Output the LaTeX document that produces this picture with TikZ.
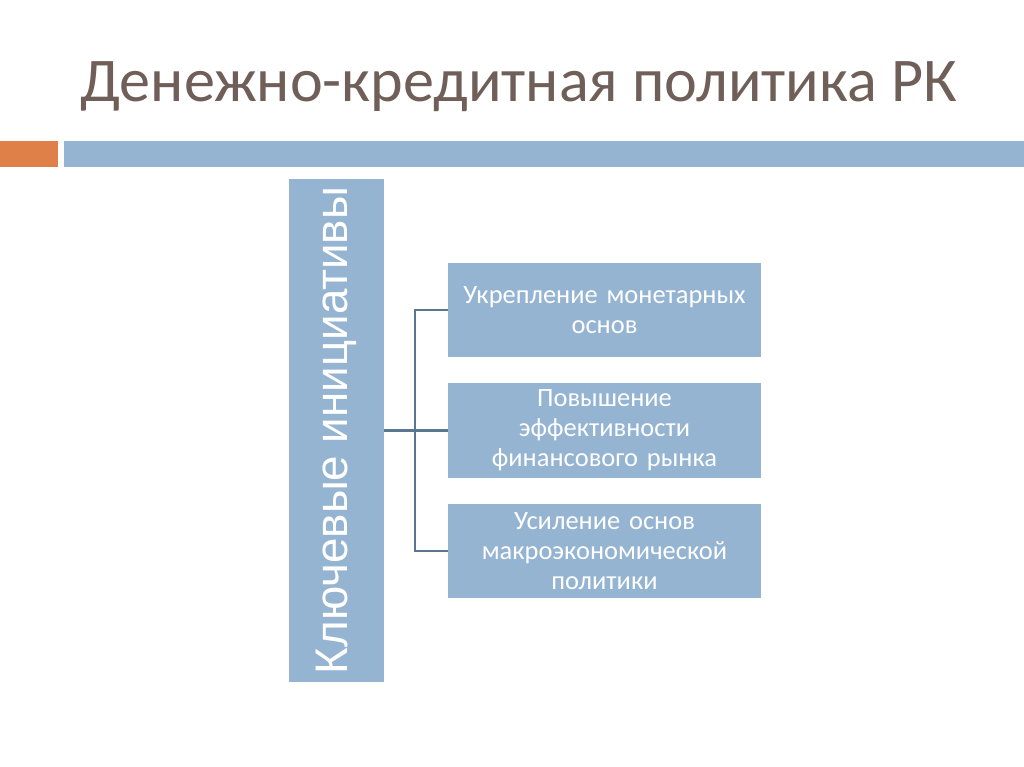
\documentclass[tikz,border=0pt]{standalone}
\usepackage{fontspec}
\setmainfont{Carlito}
\newfontfamily\keyfont{Liberation Sans}
\usetikzlibrary{positioning}
\definecolor{titlebrown}{RGB}{112,95,88}
\definecolor{paleblue}{RGB}{148,180,210}
\definecolor{barorange}{RGB}{222,128,72}
\definecolor{linkgray}{RGB}{90,118,144}
\tikzset{
  initbox/.style={fill=paleblue, text=white, align=center, inner sep=0pt,
    minimum width=222.6pt, minimum height=66.9pt, text width=215pt,
    font=\fontsize{18.8}{21.3}\selectfont},
  link/.style={draw=linkgray, line width=1.5pt}
}
\begin{document}
\begin{tikzpicture}[x=0.025cm, y=-0.025cm]
      \useasboundingbox (0,0) rectangle (1024,767);
      \node[anchor=base west, text=titlebrown, inner sep=0pt,
        font=\fontsize{44.2}{50}\selectfont] (title) at (80,102) {Денежно-кредитная политика РК};
      \fill[barorange] (0,141) rectangle (58,167);
      \fill[paleblue] (64,141) rectangle (1024,167);
      \node[fill=paleblue, text=white, inner sep=0pt, minimum width=66.9pt, minimum height=357.8pt,
        font=\keyfont\fontsize{32.5}{38}\selectfont] (key) at (336.5,430.5)
        {\rotatebox{90}{Ключевые инициативы}};
      \node[initbox] (b1) at (604.5,310) {Укрепление монетарных\\основ};
      \node[initbox] (b2) at (604.5,430.5) {Повышение\\эффективности\\финансового рынка};
      \node[initbox] (b3) at (604.5,551) {Усиление основ\\макроэкономической\\политики};
      \begin{scope}[link]
        \draw (key.east) to (b2.west);
        \draw (b1.west) -- ++(-33,0) |- (b3.west);
      \end{scope}
    \end{tikzpicture}
\end{document}
